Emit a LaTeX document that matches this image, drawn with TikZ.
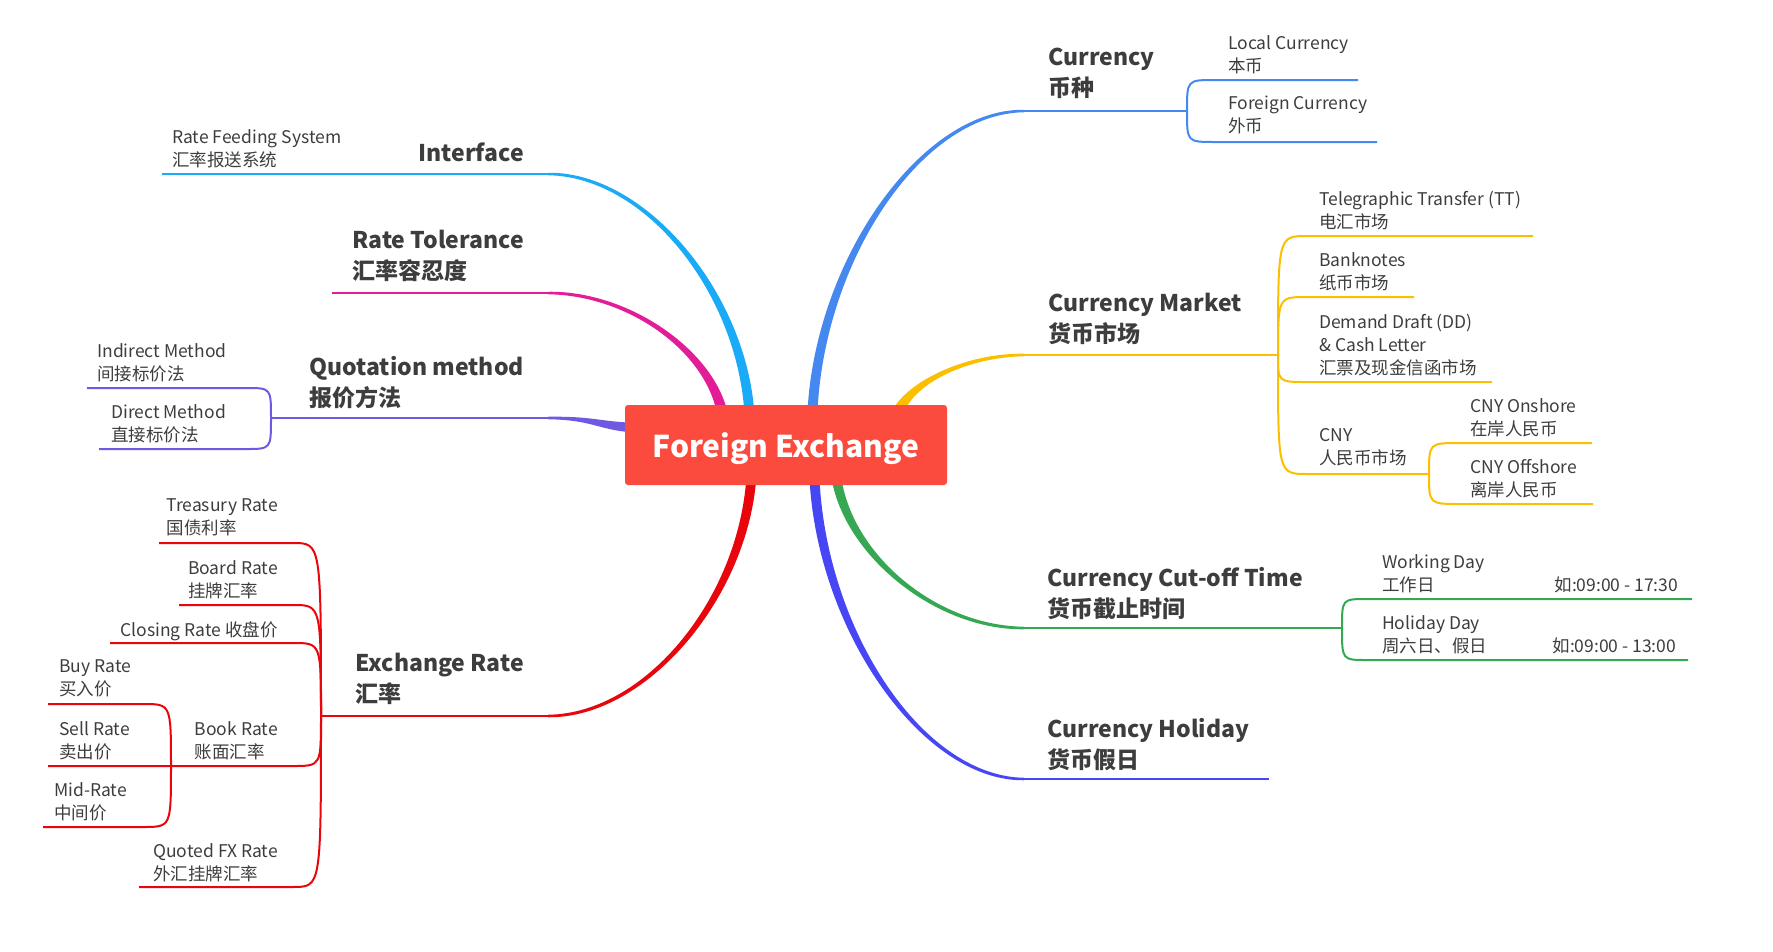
\documentclass[tikz,border=0pt]{standalone}
\usepackage{fontspec}
\setmainfont{Noto Sans CJK SC}
\usetikzlibrary{calc}

\definecolor{inkgray}{HTML}{3D3D3D}
\definecolor{rootred}{HTML}{FA4B3E}
\definecolor{ifblue}{HTML}{19ABF7}
\definecolor{tolpink}{HTML}{E31D97}
\definecolor{quopurple}{HTML}{7059E0}
\definecolor{fxred}{HTML}{E8060C}
\definecolor{curblue}{HTML}{4589F0}
\definecolor{mktyellow}{HTML}{FCBF00}
\definecolor{cutgreen}{HTML}{36A853}
\definecolor{holblue}{HTML}{4646F5}

\tikzset{
  topic/.style={font=\bfseries\fontsize{23}{31}\selectfont, text=inkgray, align=left, inner sep=0pt},
  leaf/.style={font=\fontsize{17.5}{23}\selectfont, text=inkgray, align=left, inner sep=0pt},
  root/.style={fill=rootred, rounded corners=3pt, text=white,
    font=\bfseries\fontsize{30}{36}\selectfont, text height=30pt, text depth=5pt,
    minimum width=322pt, minimum height=80pt, inner sep=0pt},
  stem/.style={line width=2.5pt},
  twig/.style={line width=2pt},
}

% tapered main limb: colour, start, end, half width at start
\newcommand{\limb}[4]{%
  \fill[#1] let \p1=(#2), \p2=(#3), \n1={sign(\x2-\x1)*sign(\y2-\y1)} in
    (\x1-#4,\y1) .. controls (\x1-#4,{(\y1+\y2)/2}) and ({(\x1+\x2)/2},{\y2+(\n1)*2.6pt}) .. ({\x2},{\y2+(\n1)*1.25pt})
    -- ({\x2},{\y2-(\n1)*1.25pt}) .. controls ({(\x1+\x2)/2},{\y2-(\n1)*2.6pt}) and (\x1+#4,{(\y1+\y2)/2}) .. (\x1+#4,\y1) -- cycle;}
\newcommand{\hlimb}[4]{%
  \fill[#1] let \p1=(#2), \p2=(#3) in
    (\x1,\y1-#4) .. controls ({(\x1+\x2)/2},\y1-#4) and ({(\x1+\x2)/2},\y2-2pt) .. (\x2,\y2-1.25pt)
    -- (\x2,\y2+1.25pt) .. controls ({(\x1+\x2)/2},\y2+2pt) and ({(\x1+\x2)/2},\y1+#4) .. (\x1,\y1+#4) -- cycle;}

\begin{document}
\begin{tikzpicture}[x=1pt,y=-1pt]
  \useasboundingbox (0,0) rectangle (1773,951);

  % left side
  \coordinate (if-s) at (750,430); \coordinate (if-e) at (548,174); \coordinate (if-t) at (162,174);
  \coordinate (rt-s) at (724,430); \coordinate (rt-e) at (548,293); \coordinate (rt-t) at (332,293);
  \coordinate (qm-s) at (650,428); \coordinate (qm-e) at (548,418); \coordinate (qm-j) at (271,418);
  \coordinate (ind-a) at (246,388); \coordinate (ind-b) at (87,388);
  \coordinate (dir-a) at (246,449); \coordinate (dir-b) at (99,449);
  \coordinate (er-s) at (752,460); \coordinate (er-e) at (548,716); \coordinate (er-j) at (321,716);
  \coordinate (tre-a) at (293,543); \coordinate (tre-b) at (159,543);
  \coordinate (brd-a) at (293,605); \coordinate (brd-b) at (179,605);
  \coordinate (cls-a) at (293,643); \coordinate (cls-b) at (110,643);
  \coordinate (bk-a) at (293,766); \coordinate (bk-j) at (171,766); \coordinate (bk-b) at (48,766);
  \coordinate (qfx-a) at (293,887); \coordinate (qfx-b) at (139,887);
  \coordinate (buy-a) at (143,704); \coordinate (buy-b) at (48,704);
  \coordinate (mid-a) at (143,827); \coordinate (mid-b) at (43,827);
  % right side
  \coordinate (cu-s) at (812,430); \coordinate (cu-e) at (1024,111); \coordinate (cu-j) at (1187,111);
  \coordinate (loc-a) at (1215,80); \coordinate (loc-b) at (1358,80);
  \coordinate (frn-a) at (1215,142); \coordinate (frn-b) at (1377,142);
  \coordinate (cm-s) at (895,425); \coordinate (cm-e) at (1024,355); \coordinate (cm-j) at (1278,355);
  \coordinate (tt-a) at (1307,236); \coordinate (tt-b) at (1533,236);
  \coordinate (bn-a) at (1307,297); \coordinate (bn-b) at (1414,297);
  \coordinate (dd-a) at (1307,382); \coordinate (dd-b) at (1492,382);
  \coordinate (cny-a) at (1307,474); \coordinate (cny-j) at (1429,474);
  \coordinate (on-a) at (1460,443); \coordinate (on-b) at (1592,443);
  \coordinate (off-a) at (1460,504); \coordinate (off-b) at (1593,504);
  \coordinate (ct-s) at (835,460); \coordinate (ct-e) at (1024,628); \coordinate (ct-j) at (1342,628);
  \coordinate (wd-a) at (1367,599); \coordinate (wd-b) at (1692,599);
  \coordinate (hd-a) at (1367,660); \coordinate (hd-b) at (1688,660);
  \coordinate (ch-s) at (814,460); \coordinate (ch-e) at (1024,779); \coordinate (ch-t) at (1269,779);

  \limb{ifblue}{if-s}{if-e}{5pt}
  \limb{tolpink}{rt-s}{rt-e}{5.5pt}
  \hlimb{quopurple}{qm-s}{qm-e}{5pt}
  \limb{fxred}{er-s}{er-e}{5pt}
  \limb{curblue}{cu-s}{cu-e}{5pt}
  \limb{mktyellow}{cm-s}{cm-e}{6.5pt}
  \limb{cutgreen}{ct-s}{ct-e}{5pt}
  \limb{holblue}{ch-s}{ch-e}{5pt}

  \draw[stem, ifblue] (if-e) -- (if-t);
  \draw[stem, tolpink] (rt-e) -- (rt-t);
  \draw[stem, quopurple] (qm-e) -- (qm-j);
  \draw[twig, quopurple] (qm-j) .. controls (qm-j |- ind-a) .. (ind-a) -- (ind-b);
  \draw[twig, quopurple] (qm-j) .. controls (qm-j |- dir-a) .. (dir-a) -- (dir-b);
  \draw[stem, fxred] (er-e) -- (er-j);
  \foreach \k in {tre, brd, cls, bk, qfx}
    \draw[twig, fxred] (er-j) .. controls (er-j |- \k-a) .. (\k-a) -- (\k-b);
  \draw[twig, fxred] (bk-j) .. controls (bk-j |- buy-a) .. (buy-a) -- (buy-b);
  \draw[twig, fxred] (bk-j) .. controls (bk-j |- mid-a) .. (mid-a) -- (mid-b);

  \draw[stem, curblue] (cu-e) -- (cu-j);
  \foreach \k in {loc, frn}
    \draw[twig, curblue] (cu-j) .. controls (cu-j |- \k-a) .. (\k-a) -- (\k-b);
  \draw[stem, mktyellow] (cm-e) -- (cm-j);
  \foreach \k in {tt, bn, dd}
    \draw[twig, mktyellow] (cm-j) .. controls (cm-j |- \k-a) .. (\k-a) -- (\k-b);
  \draw[twig, mktyellow] (cm-j) .. controls (cm-j |- cny-a) .. (cny-a) -- (cny-j);
  \foreach \k in {on, off}
    \draw[twig, mktyellow] (cny-j) .. controls (cny-j |- \k-a) .. (\k-a) -- (\k-b);
  \draw[stem, cutgreen] (ct-e) -- (ct-j);
  \foreach \k in {wd, hd}
    \draw[twig, cutgreen] (ct-j) .. controls (ct-j |- \k-a) .. (\k-a) -- (\k-b);
  \draw[stem, holblue] (ch-e) -- (ch-t);

  \node[root] (fx) at (786,445) {Foreign Exchange};

  \node[topic, anchor=north east] (interface) at (524,143) {Interface};
  \node[topic, anchor=north east] (tolerance) at (524,230) {Rate Tolerance\\汇率容忍度};
  \node[topic, anchor=north east] (quotation) at (524,356) {Quotation method\\报价方法};
  \node[topic, anchor=north east] (exrate) at (524,653) {Exchange Rate\\汇率};
  \node[topic, anchor=north west] (currency) at (1048,48) {Currency\\币种};
  \node[topic, anchor=north west] (market) at (1048,293) {Currency Market\\货币市场};
  \node[topic, anchor=north west] (cutoff) at (1047,567) {Currency Cut-off Time\\货币截止时间};
  \node[topic, anchor=north west] (choliday) at (1047,718) {Currency Holiday\\货币假日};

  \node[leaf, anchor=north west] (rfs) at (172,129) {Rate Feeding System\\汇率报送系统};
  \node[leaf, anchor=north west] (indirect) at (97,343) {Indirect Method\\间接标价法};
  \node[leaf, anchor=north west] (direct) at (111,404) {Direct Method\\直接标价法};
  \node[leaf, anchor=north east] (treasury) at (278,498) {Treasury Rate\\国债利率};
  \node[leaf, anchor=north east] (board) at (278,560) {Board Rate\\挂牌汇率};
  \node[leaf, anchor=north east] (closing) at (278,621) {Closing Rate 收盘价};
  \node[leaf, anchor=north east] (book) at (278,721) {Book Rate\\账面汇率};
  \node[leaf, anchor=north east] (quoted) at (278,843) {Quoted FX Rate\\外汇挂牌汇率};
  \node[leaf, anchor=north west] (buy) at (59,659) {Buy Rate\\买入价};
  \node[leaf, anchor=north west] (sell) at (59,721) {Sell Rate\\卖出价};
  \node[leaf, anchor=north west] (midrate) at (54,782) {Mid-Rate\\中间价};

  \node[leaf, anchor=north west] (local) at (1228,35) {Local Currency\\本币};
  \node[leaf, anchor=north west] (foreign) at (1228,96) {Foreign Currency\\外币};
  \node[leaf, anchor=north west] (tt) at (1319,191) {Telegraphic Transfer (TT)\\电汇市场};
  \node[leaf, anchor=north west] (banknotes) at (1319,252) {Banknotes\\纸币市场};
  \node[leaf, anchor=north west] (draft) at (1319,314) {Demand Draft (DD)\\\& Cash Letter\\汇票及现金信函市场};
  \node[leaf, anchor=north west] (cny) at (1319,428) {CNY\\人民币市场};
  \node[leaf, anchor=north west] (onshore) at (1470,398) {CNY Onshore\\在岸人民币};
  \node[leaf, anchor=north west] (offshore) at (1470,459) {CNY Offshore\\离岸人民币};
  \node[leaf, anchor=north west] (working) at (1382,554)
    {Working Day\\\makebox[296pt][l]{工作日\hfill 如:09:00 - 17:30}};
  \node[leaf, anchor=north west] (holiday) at (1382,615)
    {Holiday Day\\\makebox[294pt][l]{周六日、假日\hfill 如:09:00 - 13:00}};
\end{tikzpicture}
\end{document}
